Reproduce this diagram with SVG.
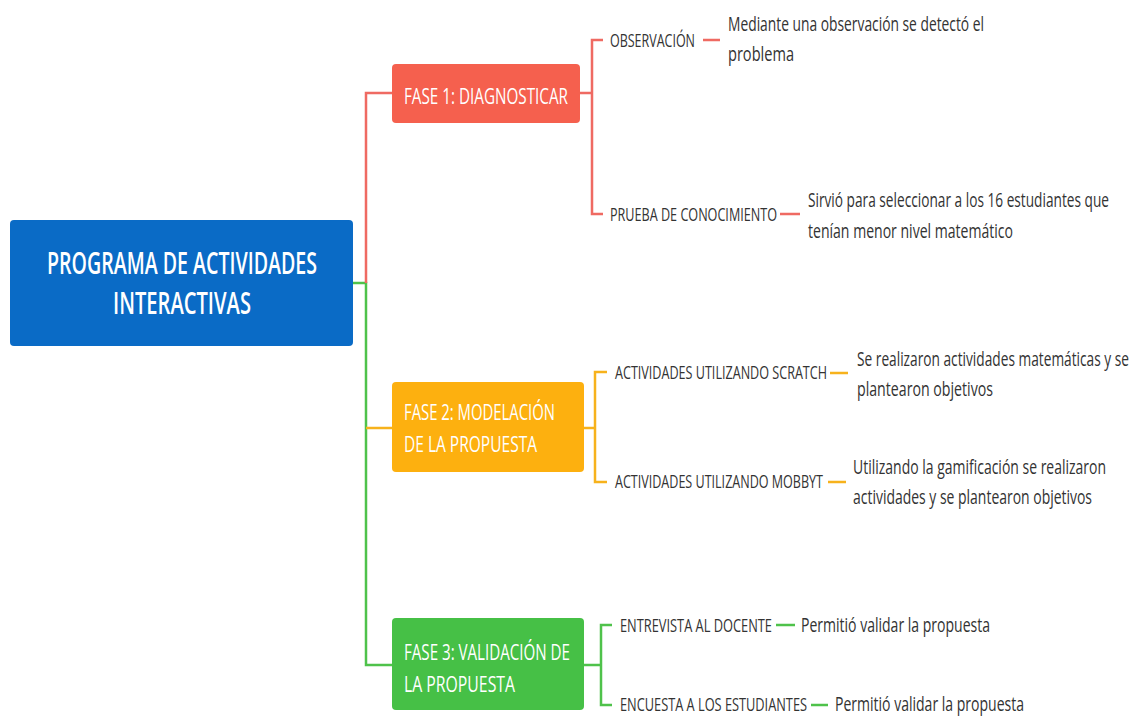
<svg xmlns="http://www.w3.org/2000/svg" width="1135" height="716" viewBox="0 0 1135 716">
<style>
text{font-family:"Open Sans","Liberation Sans",sans-serif}
.root{font-size:30px;fill:#fff;font-weight:600}
.main{font-size:22px;fill:#fff}
.sub{font-size:18px;fill:#333}
.desc{font-size:20px;fill:#333}
.r{stroke:#EF6A62;stroke-width:2.5;fill:none}
.o{stroke:#F7B21C;stroke-width:2.5;fill:none}
.g{stroke:#4FC24B;stroke-width:2.5;fill:none}
</style>
<g id="connectors">
<path class="g" d="M353 283H366V665H392"/>
<path class="r" d="M366 283V93H392"/>
<path class="o" d="M366 428H392"/>
<path class="r" d="M580 93H592M603 40H592V214H603"/>
<path class="r" d="M703 40H720M780 214H800"/>
<path class="o" d="M584 428H595M607 372H595V482H607"/>
<path class="o" d="M830 373H848M828 482H846"/>
<path class="g" d="M584 665H601M612 625H601V705H612"/>
<path class="g" d="M776 625H795M811 705H828"/>
</g>
<g id="root">
<rect x="10" y="220" width="343" height="126" rx="4" fill="#0A6BC6"/>
<text class="root" transform="translate(47 274) scale(0.68 1)" textLength="397.1" lengthAdjust="spacingAndGlyphs">PROGRAMA DE ACTIVIDADES</text>
<text class="root" transform="translate(113 314) scale(0.68 1)" textLength="202.9" lengthAdjust="spacingAndGlyphs">INTERACTIVAS</text>
</g>
<g id="fase1">
<rect x="392" y="64" width="188" height="59" rx="4" fill="#F5604E"/>
<text class="main" transform="translate(404 104) scale(0.68 1)" textLength="241.2" lengthAdjust="spacingAndGlyphs">FASE 1: DIAGNOSTICAR</text>
</g>
<g id="observacion">
<text class="sub" transform="translate(610 47) scale(0.68 1)" textLength="125" lengthAdjust="spacingAndGlyphs">OBSERVACIÓN</text>
</g>
<g id="observacion-desc">
<text class="desc" transform="translate(728 31) scale(0.68 1)" textLength="376.5" lengthAdjust="spacingAndGlyphs">Mediante una observación se detectó el</text>
<text class="desc" transform="translate(728 61) scale(0.68 1)" textLength="97.1" lengthAdjust="spacingAndGlyphs">problema</text>
</g>
<g id="prueba">
<text class="sub" transform="translate(610 221) scale(0.68 1)" textLength="245.6" lengthAdjust="spacingAndGlyphs">PRUEBA DE CONOCIMIENTO</text>
</g>
<g id="prueba-desc">
<text class="desc" transform="translate(808 207) scale(0.68 1)" textLength="442.6" lengthAdjust="spacingAndGlyphs">Sirvió para seleccionar a los 16 estudiantes que</text>
<text class="desc" transform="translate(808 238) scale(0.68 1)" textLength="301.5" lengthAdjust="spacingAndGlyphs">tenían menor nivel matemático</text>
</g>
<g id="fase2">
<rect x="392" y="382" width="192" height="90" rx="4" fill="#FDB00F"/>
<text class="main" transform="translate(404 420) scale(0.68 1)" textLength="222.1" lengthAdjust="spacingAndGlyphs">FASE 2: MODELACIÓN</text>
<text class="main" transform="translate(404 452) scale(0.68 1)" textLength="195.6" lengthAdjust="spacingAndGlyphs">DE LA PROPUESTA</text>
</g>
<g id="scratch">
<text class="sub" transform="translate(615 379) scale(0.68 1)" textLength="311.8" lengthAdjust="spacingAndGlyphs">ACTIVIDADES UTILIZANDO SCRATCH</text>
</g>
<g id="scratch-desc">
<text class="desc" transform="translate(857 366) scale(0.68 1)" textLength="400" lengthAdjust="spacingAndGlyphs">Se realizaron actividades matemáticas y se</text>
<text class="desc" transform="translate(857 396) scale(0.68 1)" textLength="200" lengthAdjust="spacingAndGlyphs">plantearon objetivos</text>
</g>
<g id="mobbyt">
<text class="sub" transform="translate(615 488) scale(0.68 1)" textLength="305.9" lengthAdjust="spacingAndGlyphs">ACTIVIDADES UTILIZANDO MOBBYT</text>
</g>
<g id="mobbyt-desc">
<text class="desc" transform="translate(853 474) scale(0.68 1)" textLength="372.1" lengthAdjust="spacingAndGlyphs">Utilizando la gamificación se realizaron</text>
<text class="desc" transform="translate(853 504) scale(0.68 1)" textLength="351.5" lengthAdjust="spacingAndGlyphs">actividades y se plantearon objetivos</text>
</g>
<g id="fase3">
<rect x="392" y="618" width="192" height="92" rx="4" fill="#46C046"/>
<text class="main" transform="translate(404 660) scale(0.68 1)" textLength="244.1" lengthAdjust="spacingAndGlyphs">FASE 3: VALIDACIÓN DE</text>
<text class="main" transform="translate(404 692) scale(0.68 1)" textLength="163.2" lengthAdjust="spacingAndGlyphs">LA PROPUESTA</text>
</g>
<g id="entrevista">
<text class="sub" transform="translate(620 632) scale(0.68 1)" textLength="223.5" lengthAdjust="spacingAndGlyphs">ENTREVISTA AL DOCENTE</text>
</g>
<g id="entrevista-desc">
<text class="desc" transform="translate(801 632) scale(0.68 1)" textLength="277.9" lengthAdjust="spacingAndGlyphs">Permitió validar la propuesta</text>
</g>
<g id="encuesta">
<text class="sub" transform="translate(620 711) scale(0.68 1)" textLength="275" lengthAdjust="spacingAndGlyphs">ENCUESTA A LOS ESTUDIANTES</text>
</g>
<g id="encuesta-desc">
<text class="desc" transform="translate(835 711) scale(0.68 1)" textLength="277.9" lengthAdjust="spacingAndGlyphs">Permitió validar la propuesta</text>
</g>
</svg>
